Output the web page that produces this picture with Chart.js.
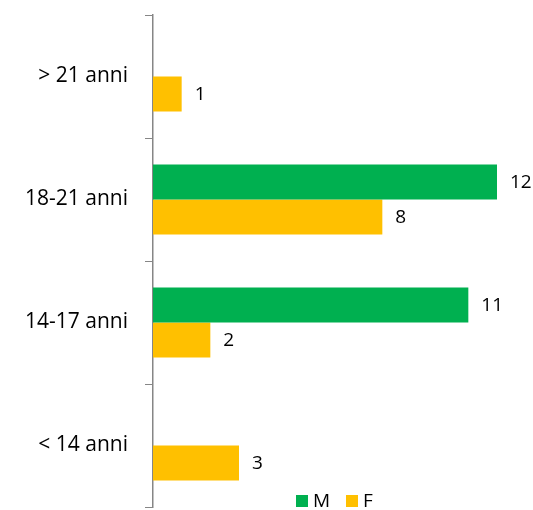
<!DOCTYPE html>
<html>
<head>
<meta charset="utf-8">
<script src="https://cdn.jsdelivr.net/npm/chart.js@4"></script>
<style>
    html, body { margin: 0; padding: 0; background: #fff; }
    #wrap { width: 533px; height: 510px; position: relative; }
</style>
</head>
<body>
<div id="wrap"><canvas id="chart"></canvas></div>
<script>
// categories, top to bottom as shown
const categories = ['> 21 anni', '18-21 anni', '14-17 anni', '< 14 anni'];
const seriesNames = ['M', 'F'];
const maleValues = [null, 12, 11, null];
const femaleValues = [1, 8, 2, 3];
const seriesColors = ['#00B050', '#FFC000'];

const FONT = '"Open Sans", sans-serif';

// value labels at the end of each bar
const barLabels = {
    id: 'barLabels',
    afterDatasetsDraw(chart) {
        const ctx = chart.ctx;
        ctx.save();
        ctx.font = '19px ' + FONT;
        ctx.fillStyle = '#000';
        ctx.textAlign = 'left';
        ctx.textBaseline = 'middle';
        chart.data.datasets.forEach((ds, i) => {
            chart.getDatasetMeta(i).data.forEach((bar, j) => {
                const v = ds.data[j];
                if (v === null || v === undefined) return;
                ctx.fillText(String(v), bar.x + 13, bar.y + 1);
            });
        });
        ctx.restore();
    }
};

// legend drawn over the bottom of the plot, like the original
const bottomLegend = {
    id: 'bottomLegend',
    afterDraw(chart) {
        const ctx = chart.ctx;
        ctx.save();
        ctx.font = '19px ' + FONT;
        ctx.textBaseline = 'middle';
        let x = 296;
        const y = 501;
        chart.data.datasets.forEach((ds) => {
            ctx.fillStyle = ds.backgroundColor;
            ctx.fillRect(x, y - 6, 12, 12);
            ctx.fillStyle = '#000';
            ctx.fillText(ds.label, x + 17, y + 1);
            x += 50;
        });
        ctx.restore();
    }
};

new Chart(document.getElementById('chart'), {
    type: 'bar',
    data: {
        labels: categories,
        datasets: [
            {
                label: seriesNames[0],
                data: maleValues,
                backgroundColor: seriesColors[0],
                categoryPercentage: 0.57,
                barPercentage: 1.0,
            },
            {
                label: seriesNames[1],
                data: femaleValues,
                backgroundColor: seriesColors[1],
                categoryPercentage: 0.57,
                barPercentage: 1.0,
            },
        ],
    },
    options: {
        indexAxis: 'y',
        responsive: true,
        maintainAspectRatio: false,
        animation: false,
        layout: { padding: { left: 0, right: 36, top: 15, bottom: 3 } },
        scales: {
            x: {
                display: false,
                min: 0,
                max: 12,
            },
            y: {
                afterFit: (scale) => {
                    scale.width = 153;
                    scale.paddingTop = 0;
                    scale.paddingBottom = 0;
                },
                grid: {
                    offset: true,
                    drawOnChartArea: false,
                    drawTicks: true,
                    tickLength: 8,
                    color: '#868686',
                },
                border: { display: true, color: '#868686', width: 1.5 },
                ticks: {
                    padding: 17,
                    color: '#000',
                    font: { family: FONT, size: 21 },
                },
            },
        },
        plugins: {
            legend: { display: false },
            tooltip: { enabled: false },
        },
    },
    plugins: [barLabels, bottomLegend],
});
</script>
</body>
</html>
